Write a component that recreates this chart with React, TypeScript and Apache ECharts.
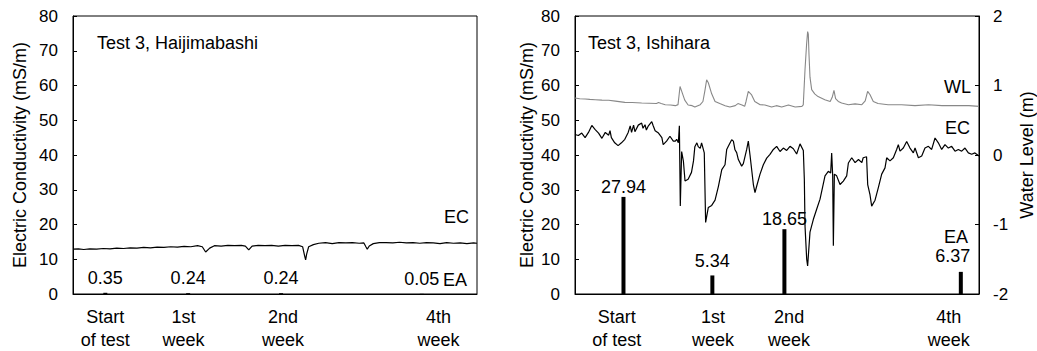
import React, { useEffect, useRef } from "react";
import * as echarts from "echarts";

// ---------- data (x = hours since start of test) ----------
const X_MAX = 600;
const weekLabels = ["Start\nof test", "1st\nweek", "2nd\nweek", "4th\nweek"];
const weekPosHaijimabashi = [48, 164, 312, 543];
const weekPosIshihara = [62, 205, 318, 555];

const eaXHaijimabashi = [48, 171, 309, 518];
const eaHaijimabashi = [0.35, 0.24, 0.24, 0.05];
const eaXIshihara = [72, 204, 311, 573];
const eaIshihara = [27.94, 5.34, 18.65, 6.37];

const ecHaijimabashi: [number, number][] = [
  [0, 12.9], [8, 13.0], [16, 12.8], [25, 13.0], [35, 12.9], [45, 13.1], [55, 13.0], [65, 13.2],
  [75, 13.1], [85, 13.3], [95, 13.2], [105, 13.4], [115, 13.3], [125, 13.5], [135, 13.4],
  [145, 13.6], [155, 13.5], [165, 13.7], [175, 13.6], [185, 13.9], [192, 13.6], [197, 12.1],
  [203, 13.2], [210, 13.9], [220, 13.8], [230, 14.0], [240, 13.9], [250, 14.0], [256, 13.8],
  [261, 12.7], [266, 13.8], [275, 14.0], [285, 13.9], [295, 14.0], [305, 13.8], [315, 14.0],
  [325, 13.9], [335, 14.0], [341, 13.6], [344, 11.0], [345.5, 9.8], [347, 11.5], [350, 13.6],
  [357, 14.2], [365, 14.6], [375, 14.8], [385, 14.5], [395, 14.8], [405, 14.7], [415, 14.8],
  [425, 14.6], [432, 14.7], [435, 13.6], [437, 12.9], [440, 13.8], [446, 14.5], [455, 14.8],
  [465, 14.8], [475, 14.7], [485, 14.9], [495, 14.7], [505, 14.8], [515, 14.6], [525, 14.8],
  [535, 14.7], [545, 14.5], [555, 14.8], [565, 14.6], [575, 14.7], [585, 14.5], [595, 14.7],
  [600, 14.6],
];

const ecIshihara: [number, number][] = [
  [0, 45.9], [5, 45.6], [10, 46.3], [15, 45.0], [20, 46.5], [25, 48.5], [30, 47.3], [35, 46.3],
  [40, 44.8], [45, 46.5], [50, 45.7], [52, 47.0], [54, 45.0], [59, 43.5], [64, 42.7], [69, 43.5],
  [74, 44.5], [79, 46.5], [82, 48.4], [84, 46.5], [87, 48.6], [89, 46.7], [94, 48.6], [99, 49.2],
  [101, 47.7], [104, 48.7], [106, 47.2], [109, 48.4], [114, 49.6], [116, 48.5], [119, 47.0],
  [124, 46.3], [129, 45.0], [131, 43.0], [136, 44.0], [141, 45.4], [146, 44.0], [149, 44.0],
  [151, 44.5], [153.5, 43.5], [155, 48.4], [156.4, 25.3], [158.4, 41.0], [161, 38.2],
  [163.4, 32.5], [168, 33.0], [173, 35.0], [176, 38.3], [178, 42.4], [181, 43.5], [183, 42.4],
  [186, 41.9], [188, 43.5], [190.6, 41.6], [192, 40.6], [194, 20.6], [198, 24.9], [203, 25.5],
  [208, 27.0], [213, 31.0], [218, 35.8], [222.8, 37.2], [225.3, 41.6], [227.7, 42.5],
  [232.7, 44.4], [235.2, 44.0], [237.6, 41.5], [240.1, 40.7], [242.6, 38.7], [247.5, 36.8],
  [250, 37.5], [255, 41.6], [257.4, 44.0], [259.9, 40.0], [264.9, 31.5], [267.3, 29.2],
  [269.8, 31.0], [274.8, 34.5], [279.7, 37.2], [284.7, 39.1], [289.6, 40.2], [294.6, 41.6],
  [299.5, 42.5], [304.5, 41.0], [309.4, 42.0], [314.4, 41.3], [319.3, 42.5], [324.3, 41.8],
  [329.2, 40.3], [334.2, 43.2], [339.1, 41.3], [340.6, 33.0], [341.6, 19.6], [344.1, 10.0],
  [345.5, 8.1], [349, 17.8], [354, 21.5], [358.9, 24.4], [363.9, 27.3], [371.3, 34.0],
  [376.2, 35.3], [379.7, 34.8], [381.2, 40.6], [382.7, 34.0], [383.7, 13.9], [385.2, 34.5],
  [388.6, 34.0], [393.6, 31.5], [398.5, 32.5], [403.5, 34.0], [406, 37.7], [411, 39.2],
  [416, 37.8], [421, 38.7], [426, 37.8], [428, 39.2], [433, 39.5], [434.7, 31.5], [438, 28.7],
  [440.6, 25.3], [445.6, 27.0], [450.5, 30.6], [455.5, 34.5], [460.4, 36.3], [462.9, 39.2],
  [467.8, 38.3], [472.8, 39.2], [477.7, 41.6], [480.2, 43.0], [482.7, 41.1], [487.6, 42.0],
  [492.6, 43.9], [497.5, 42.0], [502.5, 40.6], [505, 42.0], [510, 39.2], [514.9, 39.7],
  [519.8, 42.0], [524.8, 42.5], [529.7, 41.6], [534.7, 44.9], [539.6, 43.5], [544.6, 41.6],
  [549.5, 43.0], [554.5, 42.0], [559.4, 42.5], [564.4, 41.1], [569.3, 41.6], [574.3, 41.1],
  [579.2, 42.0], [584.2, 40.6], [589.1, 40.2], [594, 40.6], [600, 39.7],
];

const wlIshihara: [number, number][] = [
  [0, 0.82], [7, 0.81], [15, 0.805], [22, 0.8], [30, 0.796], [40, 0.79], [50, 0.787], [60, 0.775],
  [74, 0.757], [85, 0.755], [99, 0.748], [110, 0.745], [121, 0.74], [124, 0.755], [128, 0.742],
  [134, 0.724], [142, 0.72], [149, 0.71], [153, 0.725], [156, 0.986], [158, 0.93], [163, 0.79],
  [168, 0.72], [174, 0.71], [178, 0.69], [186, 0.724], [190, 0.77], [193, 0.93], [195.5, 1.082],
  [198, 1.04], [203, 0.88], [208, 0.77], [215, 0.74], [223, 0.71], [230, 0.69], [238, 0.71],
  [242, 0.74], [248, 0.72], [252, 0.7], [254, 0.77], [257.4, 0.915], [262, 0.87], [267, 0.77],
  [275, 0.724], [282, 0.72], [292, 0.69], [299, 0.71], [307, 0.69], [317, 0.72], [327, 0.69],
  [337, 0.7], [339, 0.72], [341.6, 1.226], [344, 1.6], [345.5, 1.775], [346.5, 1.74],
  [347.5, 1.45], [349, 1.12], [351.5, 0.94], [356, 0.88], [361, 0.84], [371, 0.796], [379, 0.77],
  [382, 0.83], [384.6, 0.93], [387, 0.81], [391, 0.77], [396, 0.748], [406, 0.724], [416, 0.735],
  [426, 0.724], [431, 0.78], [434.6, 0.915], [438, 0.87], [443, 0.77], [450, 0.74], [465, 0.724],
  [485, 0.724], [505, 0.71], [525, 0.724], [545, 0.71], [565, 0.71], [585, 0.71], [600, 0.7],
];

// ---------- styling helpers ----------
const FONT = "Liberation Sans, Arial, sans-serif";
const TICK_FS = 17;
const TEXT_FS = 18;

function xAxisFor(gridIndex: number, positions: number[]) {
  return {
    type: "value",
    gridIndex,
    min: 0,
    max: X_MAX,
    splitLine: { show: false },
    axisLine: { show: true, lineStyle: { color: "#000", width: 1 } },
    axisTick: { show: false },
    axisLabel: {
      customValues: positions,
      formatter: (v: number) => {
        const i = positions.findIndex((p) => Math.abs(p - v) < 1e-6);
        return i >= 0 ? weekLabels[i] : "";
      },
      color: "#000",
      fontFamily: FONT,
      fontSize: TEXT_FS,
      lineHeight: 23,
      margin: 11,
    },
  };
}

function ecAxis(gridIndex: number, nameGap: number) {
  return {
    type: "value",
    gridIndex,
    min: 0,
    max: 80,
    interval: 10,
    position: "left",
    name: "Electric Conductivity (mS/m)",
    nameLocation: "middle",
    nameRotate: 90,
    nameGap,
    nameTextStyle: { color: "#000", fontFamily: FONT, fontSize: TEXT_FS },
    splitLine: { show: false },
    axisLine: { show: true, lineStyle: { color: "#000", width: 1 } },
    axisTick: { show: true, inside: true, length: 4, lineStyle: { color: "#000" } },
    axisLabel: { color: "#000", fontFamily: FONT, fontSize: TICK_FS, margin: 15 },
  };
}

function eaBars(xAxisIndex: number, yAxisIndex: number, xs: number[], vals: number[], labelCfg: any[]) {
  return {
    type: "bar",
    xAxisIndex,
    yAxisIndex,
    barWidth: 4,
    itemStyle: { color: "#000" },
    data: vals.map((v, i) => ({ value: [xs[i], v], label: labelCfg[i] })),
    label: {
      show: true,
      position: "top",
      color: "#000",
      fontFamily: FONT,
      fontSize: TEXT_FS,
      formatter: (p: any) => Number(p.value[1]).toFixed(2),
    },
  };
}

function txt(text: string, x: number, y: number, align: string) {
  return {
    type: "text",
    x,
    y,
    style: { text, fill: "#000", fontFamily: FONT, fontSize: TEXT_FS, align, verticalAlign: "middle" },
  };
}

export default function App() {
  const ref = useRef<HTMLDivElement>(null);
  useEffect(() => {
    if (!ref.current) return;
    const chart = echarts.init(ref.current, null, { renderer: "svg" });
    chart.setOption({
      animation: false,
      backgroundColor: "#fff",
      grid: [
        { left: 73, top: 16, width: 404, height: 279, show: true, borderColor: "#000", borderWidth: 1, backgroundColor: "transparent" },
        { left: 575, top: 16, width: 404, height: 279, show: true, borderColor: "#000", borderWidth: 1, backgroundColor: "transparent" },
      ],
      xAxis: [xAxisFor(0, weekPosHaijimabashi), xAxisFor(1, weekPosIshihara)],
      yAxis: [
        ecAxis(0, 44),
        ecAxis(1, 39),
        {
          type: "value",
          gridIndex: 1,
          min: -2,
          max: 2,
          interval: 1,
          position: "right",
          name: "Water Level (m)",
          nameLocation: "middle",
          nameRotate: 90,
          nameGap: 39,
          nameTextStyle: { color: "#000", fontFamily: FONT, fontSize: TEXT_FS },
          splitLine: { show: false },
          axisLine: { show: true, lineStyle: { color: "#000", width: 1 } },
          axisTick: { show: true, inside: true, length: 4, lineStyle: { color: "#000" } },
          axisLabel: { color: "#000", fontFamily: FONT, fontSize: TICK_FS, margin: 14 },
        },
      ],
      series: [
        {
          type: "line",
          xAxisIndex: 0,
          yAxisIndex: 0,
          data: ecHaijimabashi,
          showSymbol: false,
          lineStyle: { color: "#000", width: 1.2 },
        },
        eaBars(0, 0, eaXHaijimabashi, eaHaijimabashi, [{ distance: 6 }, { distance: 6 }, { distance: 6 }, { distance: 6 }]),
        {
          type: "line",
          xAxisIndex: 1,
          yAxisIndex: 2,
          data: wlIshihara,
          showSymbol: false,
          lineStyle: { color: "#888", width: 1.1 },
        },
        {
          type: "line",
          xAxisIndex: 1,
          yAxisIndex: 1,
          data: ecIshihara,
          showSymbol: false,
          lineStyle: { color: "#000", width: 1.2 },
        },
        eaBars(1, 1, eaXIshihara, eaIshihara, [
          { distance: 1 },
          { distance: 5 },
          { distance: 1 },
          { distance: 7, offset: [-8, 0] },
        ]),
      ],
      graphic: [
        txt("Test 3, Haijimabashi", 97, 43, "left"),
        txt("EC", 469, 217, "right"),
        txt("EA", 467, 280, "right"),
        txt("Test 3, Ishihara", 588, 43, "left"),
        txt("WL", 971, 87, "right"),
        txt("EC", 970, 128, "right"),
        txt("EA", 968, 237, "right"),
      ],
    });
    return () => chart.dispose();
  }, []);
  return (
    <div
      ref={ref}
      style={{ position: "fixed", left: 0, top: 0, width: 1037, height: 351, background: "#fff" }}
    />
  );
}
